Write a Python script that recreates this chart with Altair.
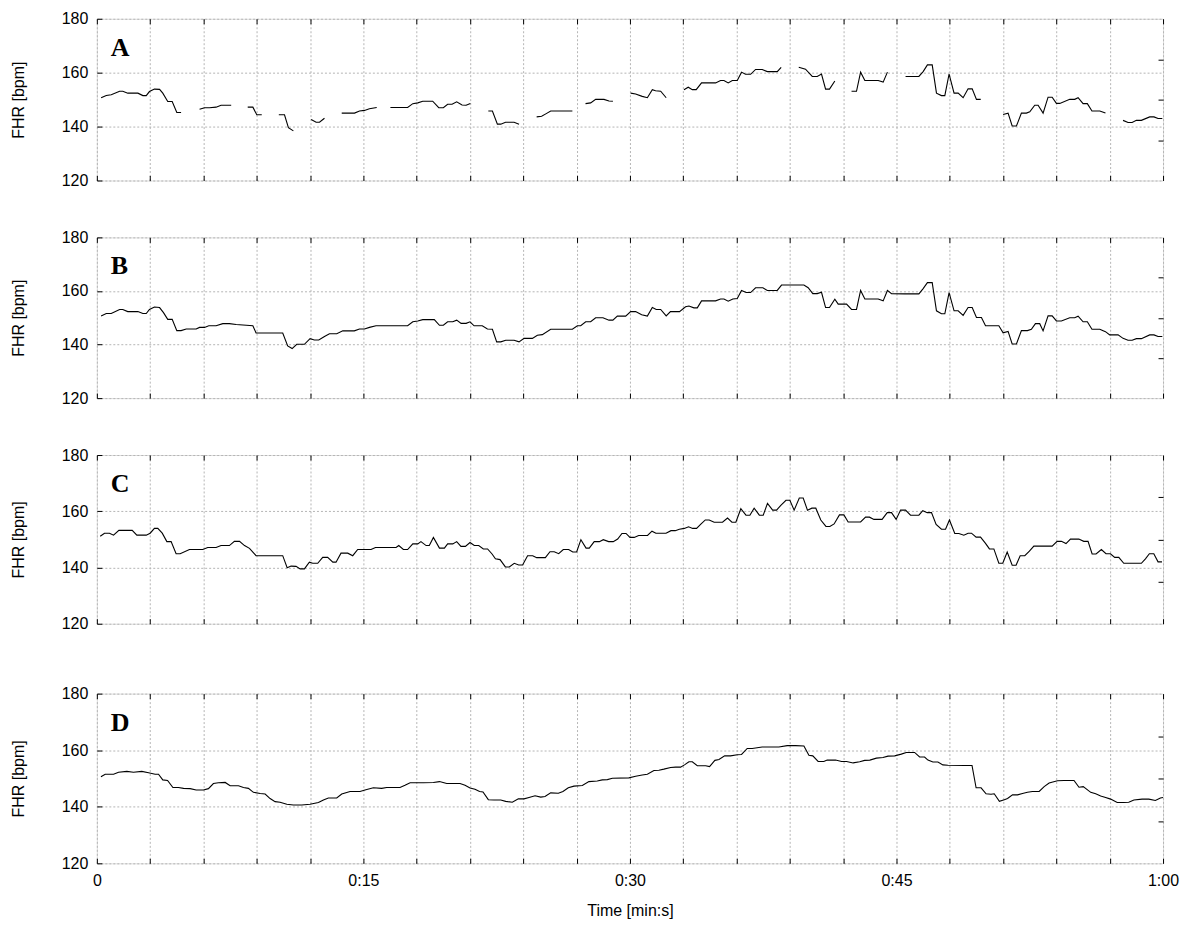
import altair as alt
import pandas as pd

# ---------------- data ----------------
# Panel A: raw trace with signal-loss gaps (segment id per point)
a_t = [0.24, 0.53, 0.81, 1.28, 1.46, 1.74, 2.31, 2.59, 2.78, 2.96, 3.24, 3.53, 3.71, 3.99, 4.24, 4.5, 4.74,
       5.78, 6.06, 6.34, 6.71, 6.99, 7.56,
       8.49, 8.78, 9.0, 9.28,
       10.24, 10.56, 10.78, 11.06,
       12.06, 12.34, 12.53, 12.81,
       13.78, 14.5, 14.78, 15.06, 15.34, 15.75,
       16.52, 17.49, 17.78, 18.06, 18.34, 18.9, 19.24, 19.5, 19.74, 19.99, 20.25, 20.55, 20.78, 21.02,
       22.03, 22.26, 22.54, 22.73, 23.0, 23.48, 23.76,
       24.75, 25.03, 25.29, 25.54, 26.76,
       27.5, 27.79, 28.07, 28.54, 28.82, 29.04,
       30.04, 30.32, 30.69, 30.98, 31.26, 31.44, 31.73, 32.04,
       33.04, 33.28, 33.51, 33.73, 34.03, 34.82, 35.1, 35.29, 35.53, 35.76, 36.04, 36.28, 36.5, 36.79, 37.07, 37.44, 37.73, 38.29, 38.51,
       39.5, 39.88, 40.26, 40.54, 40.78, 41.01, 41.23, 41.53,
       42.47, 42.75, 42.98, 43.22, 43.97, 44.25, 44.49,
       45.51, 46.26, 46.5, 46.74, 47.01, 47.25, 47.53, 47.72, 47.96, 48.24, 48.47, 48.75, 49.03, 49.26, 49.5, 49.74,
       51.0, 51.28, 51.51, 51.75, 52.03, 52.31, 52.5, 52.78, 52.97, 53.25, 53.53, 53.76, 54.0, 54.19, 54.75, 55.03, 55.22, 55.5, 55.74, 56.0, 56.44, 56.76,
       57.75, 58.03, 58.26, 58.5, 58.78, 59.25, 59.49, 59.72, 59.96]
a_bpm = [150.7, 151.5, 151.8, 153.1, 153.1, 152.4, 152.4, 151.5, 151.5, 153.0, 153.9, 153.8, 152.4, 149.3, 149.3, 145.2, 145.2,
         146.4, 147.0, 147.0, 147.2, 147.9, 147.9,
         147.2, 147.2, 144.4, 144.4,
         144.4, 144.4, 139.6, 138.4,
         142.6, 141.6, 141.6, 143.1,
         145.0, 145.0, 145.8, 146.0, 146.6, 147.1,
         147.1, 147.1, 148.5, 148.8, 149.4, 149.4, 147.0, 147.0, 148.3, 148.3, 149.2, 148.0, 147.9, 148.6,
         145.8, 145.8, 140.9, 140.9, 141.6, 141.6, 140.9,
         143.6, 143.8, 144.8, 145.8, 145.8,
         148.5, 148.8, 150.1, 150.1, 149.5, 149.4,
         152.4, 152.1, 151.2, 150.7, 153.7, 153.3, 153.1, 150.7,
         153.7, 154.6, 153.7, 153.7, 156.2, 156.2, 157.1, 157.1, 156.2, 157.1, 157.1, 160.2, 159.4, 159.4, 161.2, 161.2, 160.4, 160.4, 162.0,
         162.0, 161.3, 158.6, 158.6, 159.5, 153.9, 153.9, 156.9,
         153.1, 153.1, 160.2, 157.1, 157.1, 156.5, 160.2,
         158.6, 158.6, 160.4, 162.9, 162.9, 152.4, 151.5, 151.5, 159.5, 152.4, 152.4, 150.7, 154.0, 154.0, 150.1, 150.1,
         144.5, 145.0, 140.2, 140.2, 145.0, 145.0, 145.5, 147.9, 147.9, 145.0, 150.9, 150.9, 148.6, 148.6, 150.1, 150.1, 150.7, 148.5, 148.5, 145.8, 145.8, 145.0,
         142.3, 141.5, 141.5, 142.3, 142.3, 143.6, 143.6, 143.0, 143.0]
a_seg = ([1] * 17 + [2] * 6 + [3] * 4 + [4] * 4 + [5] * 4 + [6] * 6 + [7] * 14 + [8] * 7 + [9] * 5 + [10] * 6
         + [11] * 8 + [12] * 19 + [13] * 8 + [14] * 7 + [15] * 16 + [16] * 22 + [17] * 9)

# Panel B
b_t = [0.24, 0.53, 0.81, 1.28, 1.46, 1.74, 2.31, 2.59, 2.78, 2.96, 3.24, 3.53, 3.75, 3.99, 4.24, 4.5, 4.74, 5.03, 5.59,
       5.78, 6.06, 6.3, 6.71, 7.09, 7.46, 7.84, 8.78, 8.96, 10.46, 10.74, 10.99, 11.25, 11.68, 12.0, 12.24, 12.49,
       12.81, 13.09, 13.5, 13.84, 14.49, 14.78, 15.06, 15.34, 15.71, 17.49, 17.78, 18.06, 18.34, 18.99, 19.28, 19.5,
       19.74, 20.03, 20.25, 20.5, 20.78,
       21.0, 21.23, 21.69, 21.98, 22.26, 22.5, 22.73, 23.01, 23.48, 23.76, 24.04, 24.51, 24.79, 25.07, 25.54, 26.76,
       27.04, 27.23, 27.51, 27.79, 28.07, 28.48, 28.82, 29.04, 29.29, 29.76, 30.04, 30.32, 30.66, 30.98, 31.26, 31.48,
       31.73, 32.04, 32.28, 32.79, 33.13, 33.32, 33.6, 33.79, 34.03, 34.82, 35.1, 35.29, 35.53, 35.79, 36.04, 36.28,
       36.54, 36.79, 37.07, 37.48, 37.73, 38.29, 38.53, 39.79, 40.03, 40.29, 40.54, 40.78, 41.01, 41.23, 41.53,
       41.72, 42.19, 42.47, 42.75, 42.98, 43.22, 43.97, 44.25, 44.49, 44.72, 45.47, 46.26, 46.5, 46.74, 47.01, 47.25,
       47.53, 47.72, 47.96, 48.24, 48.47, 48.75, 49.03, 49.26, 49.5, 49.78, 50.01, 50.76, 51.0, 51.28, 51.51, 51.75,
       52.03, 52.37, 52.59, 52.82, 53.06, 53.25, 53.53, 53.76, 54.0, 54.28, 54.75, 55.03, 55.22, 55.5, 55.74, 56.0,
       56.44, 56.76, 57.0, 57.47, 57.75, 58.03, 58.26, 58.5, 58.78, 59.25, 59.49, 59.72, 59.96]
b_bpm = [150.7, 151.6, 151.6, 153.1, 153.1, 152.3, 152.3, 151.6, 151.6, 153.1, 154.0, 153.8, 151.9, 149.4, 149.4, 145.2,
         145.2, 145.8, 145.8, 146.4, 146.4, 147.0, 147.0, 147.8, 147.8, 147.5, 147.0, 144.3, 144.3, 139.5, 138.5, 140.1,
         140.1, 142.2, 141.7, 141.7, 143.0, 144.0, 144.0, 145.1, 145.1, 145.8, 145.8, 146.4, 147.0, 147.0, 148.5, 148.8,
         149.3, 149.3, 147.2, 147.2, 148.5, 148.5, 149.1, 147.9, 147.9,
         148.5, 147.0, 147.0, 145.8, 145.7, 141.0, 141.0, 141.6, 141.6, 141.0, 142.3, 142.3, 143.5, 143.7, 145.7, 145.7,
         147.0, 147.0, 148.5, 148.5, 150.0, 150.0, 149.1, 149.1, 150.6, 150.6, 152.3, 152.3, 151.1, 150.6, 153.8, 153.1,
         153.1, 150.7, 152.3, 152.3, 154.1, 154.4, 153.7, 153.7, 156.3, 156.3, 157.0, 157.0, 156.2, 157.0, 157.2, 160.2,
         159.4, 159.4, 161.2, 161.2, 160.2, 160.2, 162.2, 162.2, 161.2, 159.0, 159.0, 159.5, 153.8, 153.8, 156.9,
         155.1, 155.1, 153.1, 153.1, 160.2, 157.0, 157.0, 156.3, 160.2, 159.0, 158.9, 158.9, 160.9, 163.1, 163.1, 152.6,
         151.5, 151.5, 159.4, 152.6, 152.6, 150.9, 153.8, 153.8, 150.1, 150.1, 147.0, 147.0, 144.4, 144.9, 140.2, 140.2,
         145.2, 145.2, 145.7, 147.8, 147.8, 145.1, 150.7, 150.7, 148.8, 148.8, 150.0, 150.0, 150.6, 148.5, 148.5, 145.7,
         145.7, 144.8, 143.6, 143.6, 142.3, 141.6, 141.6, 142.2, 142.2, 143.6, 143.6, 143.0, 143.0]

# Panel C
c_t = [0.19, 0.43, 0.71, 0.94, 1.24, 1.99, 2.25, 2.78, 3.0, 3.24, 3.43, 3.68, 3.94, 4.18, 4.46, 4.69, 5.21, 5.96, 6.24,
       6.71, 6.99, 7.46, 7.74, 8.03, 8.31, 8.59, 8.96, 10.46, 10.71, 10.93, 11.21, 11.44, 11.68, 11.96, 12.15, 12.43,
       12.71, 12.99, 13.28, 13.46, 13.74, 14.12, 14.4, 14.68, 15.43, 15.68, 16.84, 16.99, 17.25, 17.49, 17.78, 18.06,
       18.24, 18.53, 18.71, 18.94, 19.28, 19.56, 19.74, 20.03, 20.25, 20.49, 20.74,
       21.0, 21.24, 21.49, 21.75, 21.99, 22.24, 22.43, 22.69, 22.99, 23.21, 23.49, 23.74, 23.96, 24.24, 24.53, 24.75,
       25.24, 25.5, 25.74, 25.99, 26.25, 26.55, 26.78, 27.0, 27.24, 27.53, 27.71, 27.99, 28.28, 28.5, 28.8, 29.06,
       29.31, 29.55, 29.78, 30.0, 30.24, 30.49, 30.99, 31.24, 31.46, 32.03, 32.31, 32.55, 32.78, 33.06, 33.3, 33.53,
       33.75, 33.99, 34.24, 34.46, 34.74, 35.21, 35.49, 35.74, 35.96, 36.24, 36.53, 36.75, 36.99, 37.28, 37.5, 37.74,
       38.03, 38.25, 38.49, 38.78, 39.0, 39.24, 39.53, 39.75, 39.99, 40.24, 40.46, 40.74, 41.03, 41.25, 41.49,
       41.79, 42.04, 42.28, 42.98, 43.26, 43.48, 43.73, 44.19, 44.48, 44.72, 44.98, 45.23, 45.51, 45.79, 46.26, 46.48,
       46.73, 46.97, 47.23, 47.53, 47.76, 47.98, 48.28, 48.51, 48.79, 49.03, 49.22, 49.48, 49.73, 50.01, 50.23, 50.48,
       50.76, 50.98, 51.23, 51.51, 51.73, 51.96, 52.22, 52.48, 52.73, 53.76, 54.04, 54.28, 54.54, 54.79, 55.26, 55.54,
       55.78, 56.01, 56.23, 56.53, 56.79, 57.04, 57.28, 57.51, 57.79, 58.78, 59.01, 59.23, 59.48, 59.72, 59.94]
c_bpm = [151.1, 152.2, 152.2, 151.5, 153.2, 153.2, 151.5, 151.5, 152.2, 153.9, 153.9, 152.2, 149.2, 149.2, 144.9, 144.9,
         146.4, 146.4, 147.1, 147.1, 147.8, 147.8, 149.3, 149.3, 147.8, 146.8, 144.2, 144.2, 139.9, 140.5, 140.4, 139.5,
         139.5, 141.9, 141.5, 141.5, 143.6, 143.6, 141.9, 141.9, 145.1, 145.1, 144.2, 146.4, 146.4, 147.1, 147.1, 147.8,
         146.4, 146.4, 148.4, 148.4, 149.2, 147.8, 147.8, 150.7, 146.9, 146.9, 148.4, 148.4, 149.2, 147.5, 147.5,
         148.9, 147.8, 147.8, 146.6, 146.6, 144.8, 143.1, 142.8, 140.2, 140.2, 141.5, 140.9, 140.9, 144.2, 144.2, 143.5,
         143.5, 145.6, 145.6, 144.9, 146.4, 146.4, 145.5, 145.5, 149.9, 146.9, 146.9, 149.2, 149.2, 149.9, 149.2, 149.2,
         150.1, 152.1, 152.1, 150.7, 150.7, 151.4, 151.4, 152.9, 152.2, 152.2, 153.1, 153.1, 153.6, 153.9, 154.5, 153.9,
         153.9, 155.4, 156.9, 156.9, 156.1, 156.1, 157.6, 156.1, 156.1, 160.9, 158.6, 158.6, 161.1, 158.6, 158.6, 162.8,
         160.4, 160.4, 162.1, 163.9, 163.9, 160.4, 164.7, 164.7, 160.4, 161.1, 161.1, 156.9, 154.6, 154.6, 155.5,
         158.7, 158.7, 156.2, 156.2, 157.9, 157.9, 157.1, 157.1, 159.5, 159.5, 157.1, 160.4, 160.4, 158.6, 158.6, 160.2,
         159.5, 159.5, 155.3, 153.6, 153.6, 156.9, 152.1, 152.1, 151.5, 152.2, 152.2, 150.8, 150.8, 148.6, 146.6, 146.6,
         141.5, 141.5, 145.5, 140.8, 140.8, 144.2, 144.2, 145.8, 147.6, 147.6, 149.3, 149.3, 148.5, 150.1, 150.1, 149.3,
         149.3, 144.8, 144.8, 146.4, 144.9, 144.9, 143.6, 143.6, 141.5, 141.5, 143.1, 144.9, 144.9, 142.0, 142.0]

# Panel D
d_t = [0.23, 0.47, 0.94, 1.22, 1.69, 2.06, 2.53, 2.91, 3.28, 3.47, 3.71, 3.98, 4.28, 4.59, 4.88, 5.25, 5.59, 6.0, 6.28,
       6.56, 6.84, 7.22, 7.5, 7.97, 8.25, 8.53, 8.81, 9.19, 9.47, 9.75, 10.03, 10.31, 10.69, 11.06, 11.53, 12.0, 12.47,
       12.75, 13.03, 13.5, 13.78, 14.25, 14.81, 15.09, 15.56, 16.03, 16.31, 17.06, 17.34, 17.63, 18.38, 18.94, 19.28,
       19.69, 20.44, 20.72,
       21.0, 21.28, 21.54, 21.73, 22.03, 22.35, 22.73, 23.01, 23.38, 23.72, 24.04, 24.32, 24.66, 24.98, 25.22, 25.54,
       25.97, 26.23, 26.53, 26.85, 27.32, 27.69, 28.16, 28.44, 28.73, 29.01, 29.94, 30.32, 30.69, 30.98, 31.35, 31.63,
       31.91, 32.29, 32.57, 32.85, 33.09, 33.32, 33.51, 33.79, 34.26, 34.48, 34.78, 35.01, 35.33, 35.66, 36.04, 36.28,
       36.6, 36.88, 37.44, 38.38, 38.85, 39.32, 39.79, 40.07, 40.29, 40.59, 40.91, 41.1, 41.57,
       41.91, 42.19, 42.56, 42.93, 43.21, 43.5, 43.87, 44.24, 44.52, 44.9, 45.27, 45.55, 46.02, 46.3, 46.58, 46.77,
       47.05, 47.33, 47.61, 47.89, 48.82, 49.25, 49.48, 49.76, 50.04, 50.32, 50.5, 50.79, 51.07, 51.25, 51.53, 51.81,
       52.09, 52.37, 52.65, 53.03, 53.31, 53.59, 54.06, 54.43, 54.99, 55.27, 55.51, 55.93, 56.21, 56.49, 56.77, 57.05,
       57.42, 57.79, 58.07, 58.36, 58.82, 59.2, 59.57, 59.85, 60.0]
d_bpm = [150.6, 151.5, 151.5, 152.2, 152.5, 152.2, 152.5, 152.0, 151.5, 151.5, 149.5, 149.3, 146.8, 146.8, 146.5, 146.4,
         145.9, 145.9, 146.4, 148.2, 148.5, 148.6, 147.4, 147.4, 146.8, 146.5, 145.1, 144.7, 144.5, 142.9, 141.8, 141.6,
         140.9, 140.6, 140.6, 140.9, 141.5, 142.4, 143.1, 143.1, 144.5, 145.4, 145.4, 145.9, 146.7, 146.5, 146.8, 146.8,
         147.6, 148.5, 148.5, 148.6, 148.9, 148.2, 148.2, 147.6,
         146.6, 146.2, 145.4, 145.2, 142.5, 142.4, 142.4, 141.9, 141.6, 142.8, 142.8, 143.3, 143.9, 143.4, 143.6, 144.9,
         144.8, 145.4, 146.7, 147.3, 147.5, 148.9, 149.1, 149.5, 149.6, 150.1, 150.2, 150.8, 151.2, 151.5, 152.8, 152.9,
         153.3, 153.9, 154.0, 154.0, 154.9, 155.9, 155.9, 154.5, 154.5, 154.2, 156.4, 156.7, 158.0, 158.0, 158.4, 158.5,
         160.6, 160.6, 161.1, 161.1, 161.6, 161.6, 161.5, 158.2, 158.0, 156.0, 156.0, 156.5, 156.5,
         156.0, 156.0, 155.5, 155.9, 156.4, 156.5, 157.2, 157.4, 157.9, 158.0, 158.6, 159.2, 159.2, 157.6, 157.6, 156.5,
         155.8, 155.8, 154.8, 154.7, 154.6, 154.6, 146.7, 146.7, 144.6, 144.4, 144.6, 141.9, 142.5, 142.9, 144.2, 144.2,
         144.7, 145.1, 145.4, 145.4, 147.1, 148.4, 149.2, 149.3, 149.3, 146.9, 147.1, 145.1, 144.6, 143.8, 143.3, 142.7,
         141.5, 141.5, 141.6, 142.4, 142.7, 142.7, 142.2, 143.1, 143.3]

panel_letters = ["A", "B", "C", "D"]
x_ticks = list(range(0, 61, 3))
x_label_values = [0, 15, 30, 45, 60]
x_label_text = ["0", "0:15", "0:30", "0:45", "1:00"]
y_ticks = [120, 140, 160, 180]
y_right_ticks = [135, 150, 165]
y_title = "FHR [bpm]"
x_title = "Time [min:s]"

# ---------------- chart ----------------
FONT = "Liberation Sans"
FS = 16
label_expr = " : ".join(f"datum.value == {v} ? '{s}'" for v, s in zip(x_label_values, x_label_text)) + " : ''"
INWARD = {"expr": "-5"}

xs = alt.Scale(domain=[0, 60], nice=False, zero=False)
ys = alt.Scale(domain=[120, 180], nice=False, zero=False)


def panel(df, letter, h, bottom):
    xaxis_kw = dict(values=x_ticks, grid=True, gridColor="#b5b5b5", gridDash=[2, 2], gridWidth=1,
                    domain=False, tickColor="black", tickSize=INWARD, labelFont=FONT, labelFontSize=FS,
                    labelColor="black", labelFlush=False, labelOverlap=False)
    if bottom:
        xaxis = alt.Axis(labels=True, labelExpr=label_expr, labelPadding=14, title=x_title,
                         titleFont=FONT, titleFontSize=FS, titleFontWeight="normal", titleColor="black",
                         titlePadding=14, **xaxis_kw)
    else:
        xaxis = alt.Axis(labels=False, title=None, **xaxis_kw)
    yaxis = alt.Axis(values=y_ticks, grid=True, gridColor="#b5b5b5", gridDash=[2, 2], gridWidth=1,
                     domain=False, tickColor="black", tickSize=INWARD, labelFont=FONT, labelFontSize=FS,
                     labelColor="black", labelPadding=14, title=y_title, titleFont=FONT, titleFontSize=FS,
                     titleFontWeight="normal", titleColor="black", titlePadding=35)
    enc = dict(x=alt.X("t:Q", scale=xs, axis=xaxis), y=alt.Y("bpm:Q", scale=ys, axis=yaxis))
    if "seg" in df.columns:
        enc["detail"] = alt.Detail("seg:N")
    line = alt.Chart(df).mark_line(color="black", strokeWidth=1.1).encode(**enc)

    sec = alt.Chart(df).mark_point(opacity=0).encode(
        x=alt.X("t:Q", scale=xs, axis=alt.Axis(orient="top", values=x_ticks, labels=False, grid=False,
                                                domain=False, tickColor="black", tickSize=INWARD, title=None)),
        y=alt.Y("bpm:Q", scale=ys, axis=alt.Axis(orient="right", values=y_right_ticks, labels=False, grid=False,
                                                  domain=False, tickColor="black", tickSize=INWARD, title=None)),
    )
    txt = alt.Chart(pd.DataFrame({"letter": [letter]})).mark_text(
        font="Liberation Serif", fontWeight="bold", fontSize=26, align="left", baseline="middle", color="black"
    ).encode(x=alt.value(14), y=alt.value(29), text="letter:N")
    return alt.layer(line, sec, txt).resolve_scale(x="independent", y="independent").properties(
        width=1068, height=h)


dfA = pd.DataFrame({"t": a_t, "bpm": a_bpm, "seg": a_seg})
dfB = pd.DataFrame({"t": b_t, "bpm": b_bpm})
dfC = pd.DataFrame({"t": c_t, "bpm": c_bpm})
dfD = pd.DataFrame({"t": d_t, "bpm": d_bpm})

top3 = alt.vconcat(
    panel(dfA, panel_letters[0], 162, False),
    panel(dfB, panel_letters[1], 161, False),
    panel(dfC, panel_letters[2], 169, False),
    spacing=39,
)
chart = alt.vconcat(
    top3,
    panel(dfD, panel_letters[3], 170, True),
    spacing=52,
).properties(
    padding={"top": 1, "left": 1, "right": 5, "bottom": 5}
).configure_view(stroke="black", strokeWidth=1).configure(background="white")

chart.save("out.html", embed_options={"renderer": "svg", "actions": False})
